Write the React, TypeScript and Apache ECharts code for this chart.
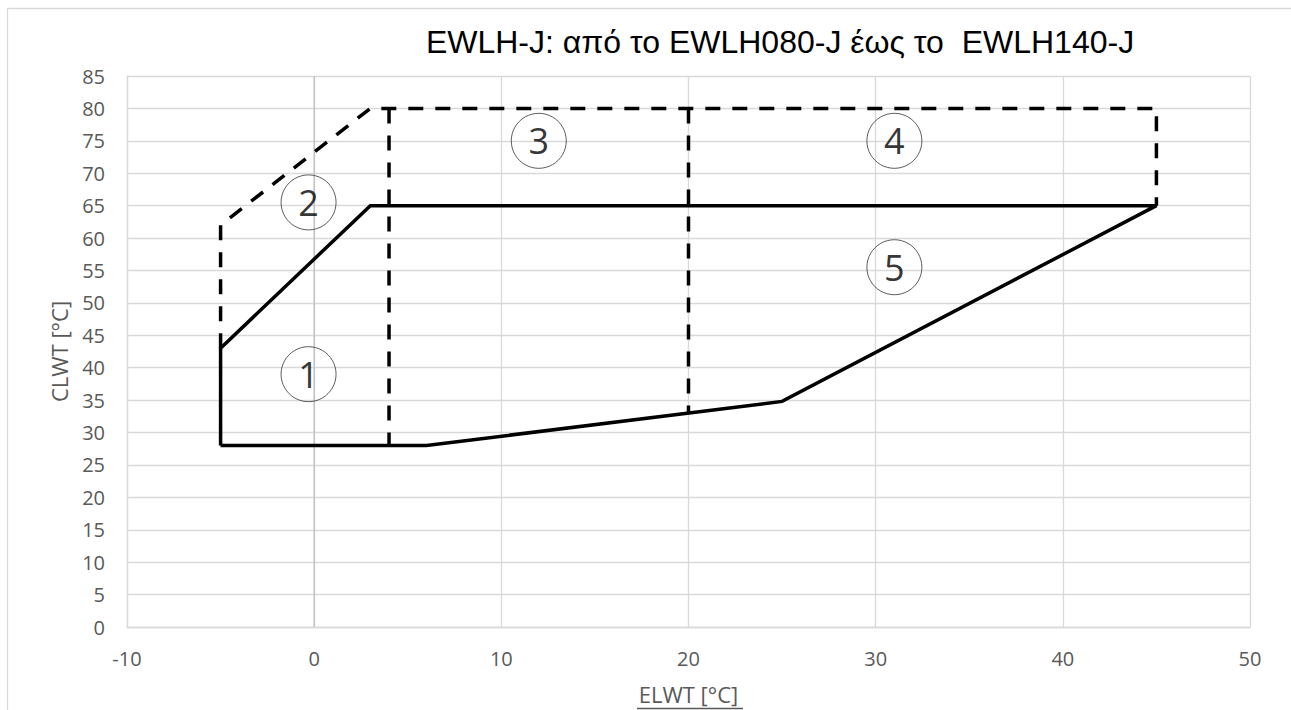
import React, { useEffect, useRef } from "react";
import * as echarts from "echarts";

const titleText = "EWLH-J: από το EWLH080-J έως το  EWLH140-J";
const xName = "ELWT [°C]";
const yName = "CLWT [°C]";

const xMin = -10;
const xMax = 50;
const xStep = 10;
const yMin = 0;
const yMax = 85;
const yStep = 5;

// Solid operating envelope
const solidEnvelope: [number, number][] = [
  [-5, 28],
  [-5, 43],
  [3, 65],
  [45, 65],
  [25, 34.8],
  [6, 28],
  [-5, 28],
];

// Dashed outer extension
const dashedOuter: [number, number][] = [
  [-5, 43],
  [-5, 62],
  [3, 80],
  [45, 80],
  [45, 65],
];

// Dashed zone dividers
const dashedAt4: [number, number][] = [
  [4, 80],
  [4, 28],
];
const dashedAt20: [number, number][] = [
  [20, 80],
  [20, 33],
];

// Zero reference line
const zeroLine: [number, number][] = [
  [0, 0],
  [0, 85],
];

// Zone markers
const zoneLabels = ["1", "2", "3", "4", "5"];
const zoneX = [-0.3, -0.3, 12, 31, 31];
const zoneY = [39, 65.5, 75, 75, 55.5];

const tickFont = "'Open Sans', 'Noto Sans', sans-serif";

export default function App() {
  const ref = useRef<HTMLDivElement>(null);

  useEffect(() => {
    if (!ref.current) return;
    const chart = echarts.init(ref.current, null, { renderer: "svg" });

    const dashStyle = {
      color: "#000000",
      width: 3.5,
      type: [15, 12] as number[],
      cap: "butt" as const,
      join: "round" as const,
    };

    const option: any = {
      animation: false,
      backgroundColor: "#ffffff",
      grid: { left: 127, right: 41, top: 76, bottom: 77, containLabel: false },
      xAxis: {
        type: "value",
        min: xMin,
        max: xMax,
        interval: xStep,
        name: xName,
        nameLocation: "middle",
        nameGap: 56,
        nameTextStyle: { color: "#595959", fontSize: 22, fontFamily: tickFont },
        axisLine: { show: true, onZero: false, lineStyle: { color: "#d9d9d9", width: 1.3 } },
        axisTick: { show: false },
        axisLabel: { color: "#595959", fontSize: 20, fontFamily: tickFont, margin: 21 },
        splitLine: { show: true, lineStyle: { color: "#d9d9d9", width: 1.3 } },
      },
      yAxis: {
        type: "value",
        min: yMin,
        max: yMax,
        interval: yStep,
        name: yName,
        nameLocation: "middle",
        nameGap: 57,
        nameRotate: 90,
        nameTextStyle: { color: "#595959", fontSize: 22, fontFamily: tickFont },
        axisLine: { show: true, onZero: false, lineStyle: { color: "#d9d9d9", width: 1.3 } },
        axisTick: { show: false },
        axisLabel: { color: "#595959", fontSize: 20, fontFamily: tickFont, margin: 22 },
        splitLine: { show: true, lineStyle: { color: "#d9d9d9", width: 1.3 } },
      },
      graphic: [
        {
          type: "rect",
          silent: true,
          shape: { x: 7.5, y: 8.5, width: 1400, height: 800 },
          style: { fill: "none", stroke: "#d9d9d9", lineWidth: 1.3 },
          z: -10,
        },
        {
          type: "text",
          x: 780,
          y: 42,
          style: {
            text: titleText,
            fill: "#000000",
            font: "32px 'Liberation Sans', Arial, sans-serif",
            align: "center",
            verticalAlign: "middle",
          },
        },
        {
          type: "line",
          silent: true,
          shape: { x1: 637, y1: 708.5, x2: 743, y2: 708.5 },
          style: { stroke: "#595959", lineWidth: 1.3 },
        },
      ],
      series: [
        {
          type: "line",
          data: zeroLine,
          symbol: "none",
          silent: true,
          lineStyle: { color: "#bfbfbf", width: 1.3 },
          z: 1,
        },
        {
          type: "line",
          data: dashedOuter,
          symbol: "none",
          lineStyle: dashStyle,
          z: 3,
        },
        {
          type: "line",
          data: dashedAt4,
          symbol: "none",
          lineStyle: dashStyle,
          z: 3,
        },
        {
          type: "line",
          data: dashedAt20,
          symbol: "none",
          lineStyle: dashStyle,
          z: 3,
        },
        {
          type: "line",
          data: solidEnvelope,
          symbol: "none",
          lineStyle: { color: "#000000", width: 3.5, join: "miter" },
          z: 4,
        },
        {
          type: "scatter",
          data: zoneLabels.map((n, i) => ({ value: [zoneX[i], zoneY[i]], name: n })),
          symbol: "circle",
          symbolSize: 55,
          itemStyle: { color: "rgba(255,255,255,0)", borderColor: "#333333", borderWidth: 1 },
          label: {
            show: true,
            position: "inside",
            formatter: (p: any) => p.name,
            color: "#000000",
            fontSize: 36,
            fontFamily: tickFont,
          },
          z: 5,
        },
      ],
    };

    chart.setOption(option);
    return () => chart.dispose();
  }, []);

  return (
    <div
      ref={ref}
      style={{ position: "fixed", left: 0, top: 0, width: 1291, height: 710, background: "#fff" }}
    />
  );
}
